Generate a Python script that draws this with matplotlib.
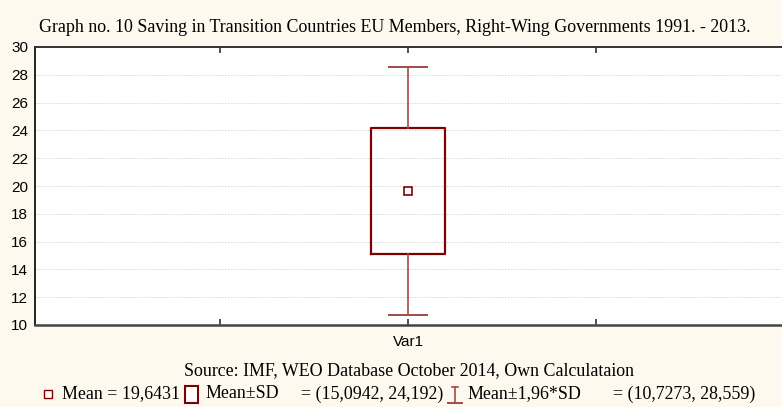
import matplotlib.pyplot as plt
from matplotlib.patches import Rectangle
from matplotlib.lines import Line2D

# values
categories = ["Var1"]
mean = 19.6431
sd_low, sd_high = 15.0942, 24.192
ci_low, ci_high = 10.7273, 28.559
yticks = [10, 12, 14, 16, 18, 20, 22, 24, 26, 28, 30]

title = "Graph no. 10 Saving in Transition Countries EU Members, Right-Wing Governments 1991. - 2013."
source = "Source: IMF, WEO Database October 2014, Own Calculataion"

W, H = 782, 407
bg = "#fdf9ee"
box_col = "#800000"
whisk_col = "#a34a4a"
serif = "Liberation Serif"
sans = "Liberation Sans"
fs = 12.9

fig = plt.figure(figsize=(W / 100, H / 100), dpi=100, facecolor=bg)
ax = fig.add_axes([35 / W, 1 - 325 / H, 1 - 35 / W, (325 - 47) / H])
ax.set_facecolor("white")

stats = [{
    "label": categories[0],
    "mean": mean, "med": mean,
    "q1": sd_low, "q3": sd_high,
    "whislo": ci_low, "whishi": ci_high,
    "fliers": [],
}]
ax.bxp(stats, positions=[0], widths=0.39, capwidths=0.2, showmeans=True,
       boxprops=dict(color=box_col, linewidth=1.6),
       whiskerprops=dict(color=whisk_col, linewidth=1.2),
       capprops=dict(color=whisk_col, linewidth=1.4),
       medianprops=dict(linestyle="none"),
       meanprops=dict(marker="s", markersize=6, markerfacecolor="white",
                      markeredgecolor=box_col, markeredgewidth=1.2),
       showfliers=False)

ax.set_ylim(10, 30)
ax.set_xlim(-1.984, 1.989)
ax.set_yticks(yticks)
ax.set_xticks([-1, 0, 1])
ax.set_xticklabels(["", categories[0], ""])
ax.yaxis.grid(True, color="#d6d6d6", linestyle=(0, (1.5, 1.5)), linewidth=0.7)
ax.set_axisbelow(True)

ax.tick_params(axis="x", direction="in", top=True, length=4, width=1.2,
               color="#333333", labelsize=11, pad=7)
ax.tick_params(axis="y", direction="in", length=0, labelsize=11, pad=5)
for lab in ax.get_xticklabels() + ax.get_yticklabels():
    lab.set_fontfamily(sans)

ax.spines["right"].set_visible(False)
ax.spines["top"].set_linewidth(1.4)
ax.spines["top"].set_color("#333333")
ax.spines["bottom"].set_linewidth(1.8)
ax.spines["bottom"].set_color("#444444")
ax.spines["left"].set_linewidth(1.2)
ax.spines["left"].set_color("black")

fig.text(395 / W, 1 - 27 / H, title, ha="center", va="center",
         fontsize=fs, family=serif)
fig.text(409 / W, 1 - 371 / H, source, ha="center", va="center",
         fontsize=fs, family=serif)

# legend row at the bottom
ly = 1 - 394 / H
fig.add_artist(Line2D([48 / W], [ly], marker="s", markersize=5.5,
                      markerfacecolor="white", markeredgecolor=box_col,
                      markeredgewidth=1.0, linestyle="none",
                      transform=fig.transFigure))
fig.add_artist(Rectangle((185 / W, 1 - 403 / H), 13 / W, 17 / H,
                         facecolor="white", edgecolor=box_col, linewidth=1.5,
                         transform=fig.transFigure))
wx = 455 / W
fig.add_artist(Line2D([wx, wx], [1 - 387 / H, 1 - 403 / H], color=whisk_col,
                      linewidth=1.2, transform=fig.transFigure))
fig.add_artist(Line2D([452 / W, 458 / W], [1 - 387 / H] * 2, color=whisk_col,
                      linewidth=1.2, transform=fig.transFigure))
fig.add_artist(Line2D([448 / W, 462 / W], [1 - 403 / H] * 2, color=whisk_col,
                      linewidth=1.4, transform=fig.transFigure))

legend_texts = [
    (62, "Mean = 19,6431"),
    (205, "Mean\u00b1SD"),
    (301, "= (15,0942, 24,192)"),
    (468, "Mean\u00b11,96*SD"),
    (613, "= (10,7273, 28,559)"),
]
for x, s in legend_texts:
    fig.text(x / W, ly, s, ha="left", va="center", fontsize=fs, family=serif)

fig.savefig("out.png", dpi=100, facecolor=bg)
